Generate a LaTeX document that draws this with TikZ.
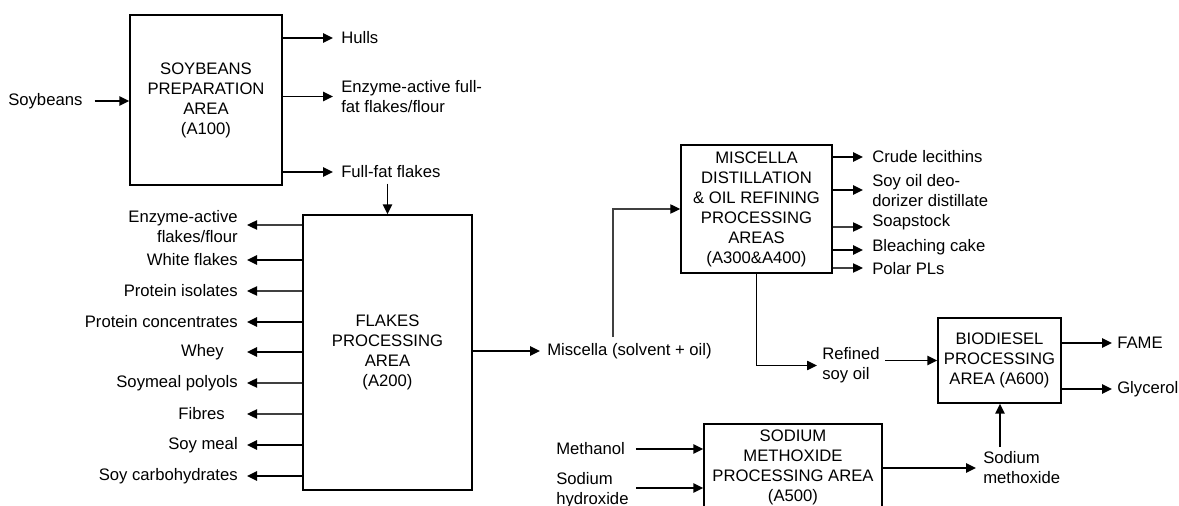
\documentclass[tikz,border=0pt]{standalone}
\usepackage{fontspec}
\setmainfont{Liberation Sans}
\usetikzlibrary{arrows.meta}
\begin{document}
\begin{tikzpicture}[x=0.75pt,y=-0.75pt,
  every node/.style={font=\fontsize{12.5}{15}\selectfont},
  lbl/.style={inner sep=0pt, align=left},
  lblr/.style={inner sep=0pt, align=right, anchor=east},
  procbox/.style={draw, line width=1.1pt, align=center, inner sep=0pt},
  flow/.style={line width=1.3pt, -{Triangle[length=7.5pt,width=7pt,color=black]}},
  thinflow/.style={flow, line width=0.9pt, draw=black!75}
]
\useasboundingbox (0,0) rectangle (1179,506);
\clip (0,0) rectangle (1179,506);

% ---------- process boxes ----------
\node[procbox, minimum width=114pt, minimum height=127.5pt] (A100) at (206,100)
  {SOYBEANS\\PREPARATION\\AREA\\(A100)};
\node[procbox, minimum width=126.75pt, minimum height=206.25pt] (A200) at (387.5,352.5)
  {FLAKES\\PROCESSING\\AREA\\(A200)};
\node[procbox, minimum width=113.25pt, minimum height=96pt] (A300) at (756.5,209)
  {MISCELLA\\DISTILLATION\\\& OIL REFINING\\PROCESSING\\AREAS\\(A300\&A400)};
\node[procbox, minimum width=92.25pt, minimum height=63.75pt] (A600) at (999.5,360.5)
  {BIODIESEL\\PROCESSING\\AREA (A600)};
\node[procbox, minimum width=133.5pt, minimum height=65.25pt] (A500) at (793,467.5)
  {SODIUM\\METHOXIDE\\PROCESSING AREA\\(A500)};

% ---------- A100 ----------
\node[lbl, anchor=west] (soy) at (8,101) {Soybeans};
\draw[flow] ([xshift=9pt]soy.east) -- (A100.west |- soy.east);

\coordinate (tipA) at (333,0);
\node[lbl, anchor=west] (hulls) at (341,38) {Hulls};
\node[lbl, anchor=west] (eff) at (341,96.5) {Enzyme-active full-\\fat flakes/flour};
\node[lbl, anchor=west] (fff) at (341,172) {Full-fat flakes};
\draw[flow] (A100.east |- hulls.west) -- (tipA |- hulls.west);
\draw[flow] (A100.east |- eff.west) -- (tipA |- eff.west);
\draw[flow] (A100.east |- fff.west) -- (tipA |- fff.west);
\draw[flow] ([yshift=-4pt]fff.south -| A200.north) -- (A200.north);

% ---------- A200 left outputs ----------
\coordinate (tipB) at (247,0);
\node[lblr] (eaf) at (238,227) {Enzyme-active\\flakes/flour};
\node[lblr] (wf) at (238,260) {White flakes};
\node[lblr] (pi) at (238,291) {Protein isolates};
\node[lblr] (pc) at (238,322) {Protein concentrates};
\node[lblr] (wh) at (224,352) {Whey};
\node[lblr] (sp) at (238,383) {Soymeal polyols};
\node[lblr] (fb) at (225,414) {Fibres};
\node[lblr] (sm) at (238,445) {Soy meal};
\node[lblr] (sc) at (238,476) {Soy carbohydrates};
\draw[thinflow] ([yshift=1.5pt]A200.west |- eaf.east) -- ([yshift=1.5pt]tipB |- eaf.east);
\draw[flow] (A200.west |- wf.east) -- (tipB |- wf.east);
\draw[thinflow] (A200.west |- pi.east) -- (tipB |- pi.east);
\draw[flow] (A200.west |- pc.east) -- (tipB |- pc.east);
\draw[flow] (A200.west |- wh.east) -- (tipB |- wh.east);
\draw[thinflow] (A200.west |- sp.east) -- (tipB |- sp.east);
\draw[thinflow] (A200.west |- fb.east) -- (tipB |- fb.east);
\draw[flow] (A200.west |- sm.east) -- (tipB |- sm.east);
\draw[flow] (A200.west |- sc.east) -- (tipB |- sc.east);

% ---------- Miscella ----------
\node[lbl, anchor=west] (misc) at (547,351) {Miscella (solvent + oil)};
\draw[flow] (A200.east |- misc.west) -- ([xshift=-5.25pt]misc.west);
\coordinate (mup) at (613,337);
\draw[thinflow] (mup) |- (A300.west);

% ---------- A300 outputs ----------
\coordinate (tipC) at (863,0);
\node[lbl, anchor=west] (cl) at (872,157) {Crude lecithins};
\node[lbl, anchor=west] (sod) at (872,191) {Soy oil deo-\\dorizer distillate};
\node[lbl, anchor=west] (ss) at (872,222) {Soapstock};
\node[lbl, anchor=west] (bc) at (872,247) {Bleaching cake};
\node[lbl, anchor=west] (pp) at (872,269) {Polar PLs};
\draw[flow] (A300.east |- cl.west) -- (tipC |- cl.west);
\draw[flow] ([yshift=0.75pt]A300.east |- sod.west) -- ([yshift=0.75pt]tipC |- sod.west);
\draw[thinflow] ([yshift=-3.75pt]A300.east |- ss.west) -- ([yshift=-3.75pt]tipC |- ss.west);
\draw[flow] ([yshift=-2.25pt]A300.east |- bc.west) -- ([yshift=-2.25pt]tipC |- bc.west);
\draw[thinflow] ([yshift=0.75pt]A300.east |- pp.west) -- ([yshift=0.75pt]tipC |- pp.west);

% ---------- refined soy oil ----------
\node[lbl, anchor=west] (ref) at (822,365.5) {Refined\\soy oil};
\draw[flow, line width=1.05pt] (A300.south) |- ([xshift=-3.75pt]ref.west);
\draw[flow] ([xshift=4pt]ref.east |- A600.west) -- (A600.west);

% ---------- A600 outputs ----------
\coordinate (tipD) at (1112,0);
\node[lbl, anchor=west] (fame) at (1117,343) {FAME};
\node[lbl, anchor=west] (gly) at (1117,389) {Glycerol};
\draw[flow] (A600.east |- fame.west) -- (tipD |- fame.west);
\draw[flow] (A600.east |- gly.west) -- (tipD |- gly.west);

% ---------- A500 ----------
\node[lbl, anchor=west] (meoh) at (556,449) {Methanol};
\node[lbl, anchor=west] (naoh) at (556,490) {Sodium\\hydroxide};
\draw[flow] ([xshift=8pt]meoh.east) -- (A500.west |- meoh.east);
\coordinate (naohs) at (636,488);
\draw[flow] (naohs) -- (A500.west |- naohs);

\node[lbl, anchor=west] (smo) at (983,468) {Sodium\\methoxide};
\draw[flow] (A500.east |- smo.west) -- ([xshift=-5.25pt]smo.west);
\coordinate (smup) at (1000,447);
\draw[flow] (smup) -- (smup |- A600.south);
\end{tikzpicture}
\end{document}
